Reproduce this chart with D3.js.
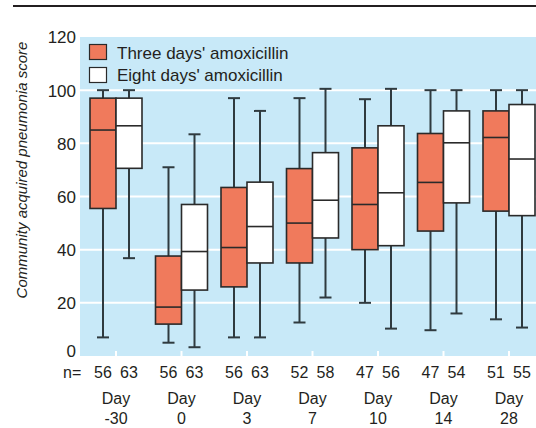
<!DOCTYPE html>
<html><head><meta charset="utf-8">
<script src="https://cdn.jsdelivr.net/npm/d3@7"></script>
<style>
body{margin:0;background:#fff;}
text{font-family:"Liberation Sans Narrow","Arial Narrow","Liberation Sans",Arial,sans-serif;fill:#231f20;}
</style></head><body>
<svg id="chart" width="536" height="428"></svg>
<script>
const days = ["-30","0","3","7","10","14","28"];
const series = ["Three days' amoxicillin","Eight days' amoxicillin"];
// [low whisker, Q1, median, Q3, high whisker]
const threeDays = [
  [7, 55.5, 85, 97, 100],
  [5, 12, 18.4, 37.6, 71],
  [7, 26, 40.8, 63.4, 97],
  [12.6, 35, 50, 70.5, 97],
  [20, 40, 57, 78.3, 96.6],
  [9.7, 47, 65.3, 83.7, 100],
  [13.8, 54.5, 82.2, 92.2, 100]
];
const eightDays = [
  [36.8, 70.6, 86.6, 97, 100],
  [3.3, 24.8, 39.3, 57, 83.4],
  [7, 35, 48.7, 65.4, 92.2],
  [22, 44.4, 58.6, 76.5, 100.5],
  [10.3, 41.5, 61.4, 86.6, 100.5],
  [16, 57.6, 80.2, 92.2, 100],
  [10.7, 52.8, 74.1, 94.6, 100]
];
const nThree = [56,56,56,52,47,47,51];
const nEight = [63,63,63,58,56,54,55];
const yTicks = [0,20,40,60,80,100,120];

const svg = d3.select("#chart");
const plot = {left:80, right:536, top:37, bottom:356};
const y = d3.scaleLinear().domain([0,120]).range([plot.bottom, plot.top]);
const x = d3.scalePoint().domain(days).range([116, 509]);
const boxW = 26, capW = 12;
const colors = ["#f07a5c", "#ffffff"];

// top rule
svg.append("line").attr("x1",13).attr("x2",536).attr("y1",6).attr("y2",6)
  .attr("stroke","#231f20").attr("stroke-width",2);

// background
svg.append("rect").attr("x",plot.left).attr("y",plot.top)
  .attr("width",plot.right-plot.left).attr("height",plot.bottom-plot.top)
  .attr("fill","#c8e9f8");

// gridlines
svg.append("g").selectAll("line").data(yTicks.filter(d=>d>0&&d<120)).join("line")
  .attr("x1",plot.left).attr("x2",plot.right)
  .attr("y1",d=>y(d)).attr("y2",d=>y(d))
  .attr("stroke","#fff").attr("stroke-width",2);

// category ticks (white, at bottom)
svg.append("g").selectAll("line").data(days).join("line")
  .attr("x1",d=>x(d)).attr("x2",d=>x(d))
  .attr("y1",plot.bottom).attr("y2",plot.bottom-5)
  .attr("stroke","#fff").attr("stroke-width",2);

// y axis labels
const yAxis = d3.axisLeft(y).tickValues(yTicks).tickSize(0).tickPadding(0);
const ya = svg.append("g").attr("transform",`translate(76,0)`).call(yAxis);
ya.select(".domain").remove();
ya.selectAll("text").attr("font-size",17).attr("dy",d=> d===0 ? "0.05em" : "0.35em")
  .style("font-family",'"Liberation Sans Narrow","Arial Narrow",Arial,sans-serif').attr("fill","#231f20");

// y title
svg.append("text").attr("transform",`translate(27,170) rotate(-90)`)
  .attr("text-anchor","middle").attr("font-size",15).attr("font-style","italic")
  .text("Community acquired pneumonia score");

// boxes
function drawBoxes(data, offset, color, key) {
  const g = svg.append("g").attr("class",key);
  data.forEach((d,i) => {
    const cx = x(days[i]) + offset;
    const [lo,q1,med,q3,hi] = d;
    const gg = g.append("g");
    gg.append("line").attr("x1",cx).attr("x2",cx).attr("y1",y(hi)).attr("y2",y(q3))
      .attr("stroke","#2f3a3f").attr("stroke-width",2);
    gg.append("line").attr("x1",cx).attr("x2",cx).attr("y1",y(q1)).attr("y2",y(lo))
      .attr("stroke","#2f3a3f").attr("stroke-width",2);
    gg.append("line").attr("x1",cx-capW/2).attr("x2",cx+capW/2).attr("y1",y(hi)).attr("y2",y(hi))
      .attr("stroke","#2f3a3f").attr("stroke-width",2);
    gg.append("line").attr("x1",cx-capW/2).attr("x2",cx+capW/2).attr("y1",y(lo)).attr("y2",y(lo))
      .attr("stroke","#2f3a3f").attr("stroke-width",2);
    gg.append("rect").attr("x",cx-boxW/2).attr("y",y(q3)).attr("width",boxW).attr("height",y(q1)-y(q3))
      .attr("fill",color).attr("stroke","#2a2a2a").attr("stroke-width",1.6);
    gg.append("line").attr("x1",cx-boxW/2).attr("x2",cx+boxW/2).attr("y1",y(med)).attr("y2",y(med))
      .attr("stroke","#2a2a2a").attr("stroke-width",1.6);
  });
}
drawBoxes(threeDays, -boxW/2, colors[0], "three");
drawBoxes(eightDays, boxW/2, colors[1], "eight");

// n labels
svg.append("text").attr("x",63).attr("y",378).attr("font-size",16).text("n=");
svg.append("g").selectAll("text").data(nThree).join("text")
  .attr("x",(d,i)=>x(days[i])-boxW/2).attr("y",378).attr("text-anchor","middle")
  .attr("font-size",16).text(d=>d);
svg.append("g").selectAll("text").data(nEight).join("text")
  .attr("x",(d,i)=>x(days[i])+boxW/2).attr("y",378).attr("text-anchor","middle")
  .attr("font-size",16).text(d=>d);

// day labels
const dl = svg.append("g").selectAll("text").data(days).join("text")
  .attr("x",d=>x(d)).attr("text-anchor","middle").attr("font-size",16);
dl.append("tspan").attr("x",d=>x(d)).attr("y",404).text("Day");
dl.append("tspan").attr("x",d=>x(d)).attr("y",424).text(d=>d);

// legend
const lg = svg.append("g");
series.forEach((s,i)=>{
  lg.append("rect").attr("x",89.5).attr("y",44.5+i*23).attr("width",17).attr("height",15)
    .attr("fill",colors[i]).attr("stroke","#2a2a2a").attr("stroke-width",1.2);
  lg.append("text").attr("x",117).attr("y",58.5+i*22).attr("font-size",17).text(s);
});
</script>
</body></html>
